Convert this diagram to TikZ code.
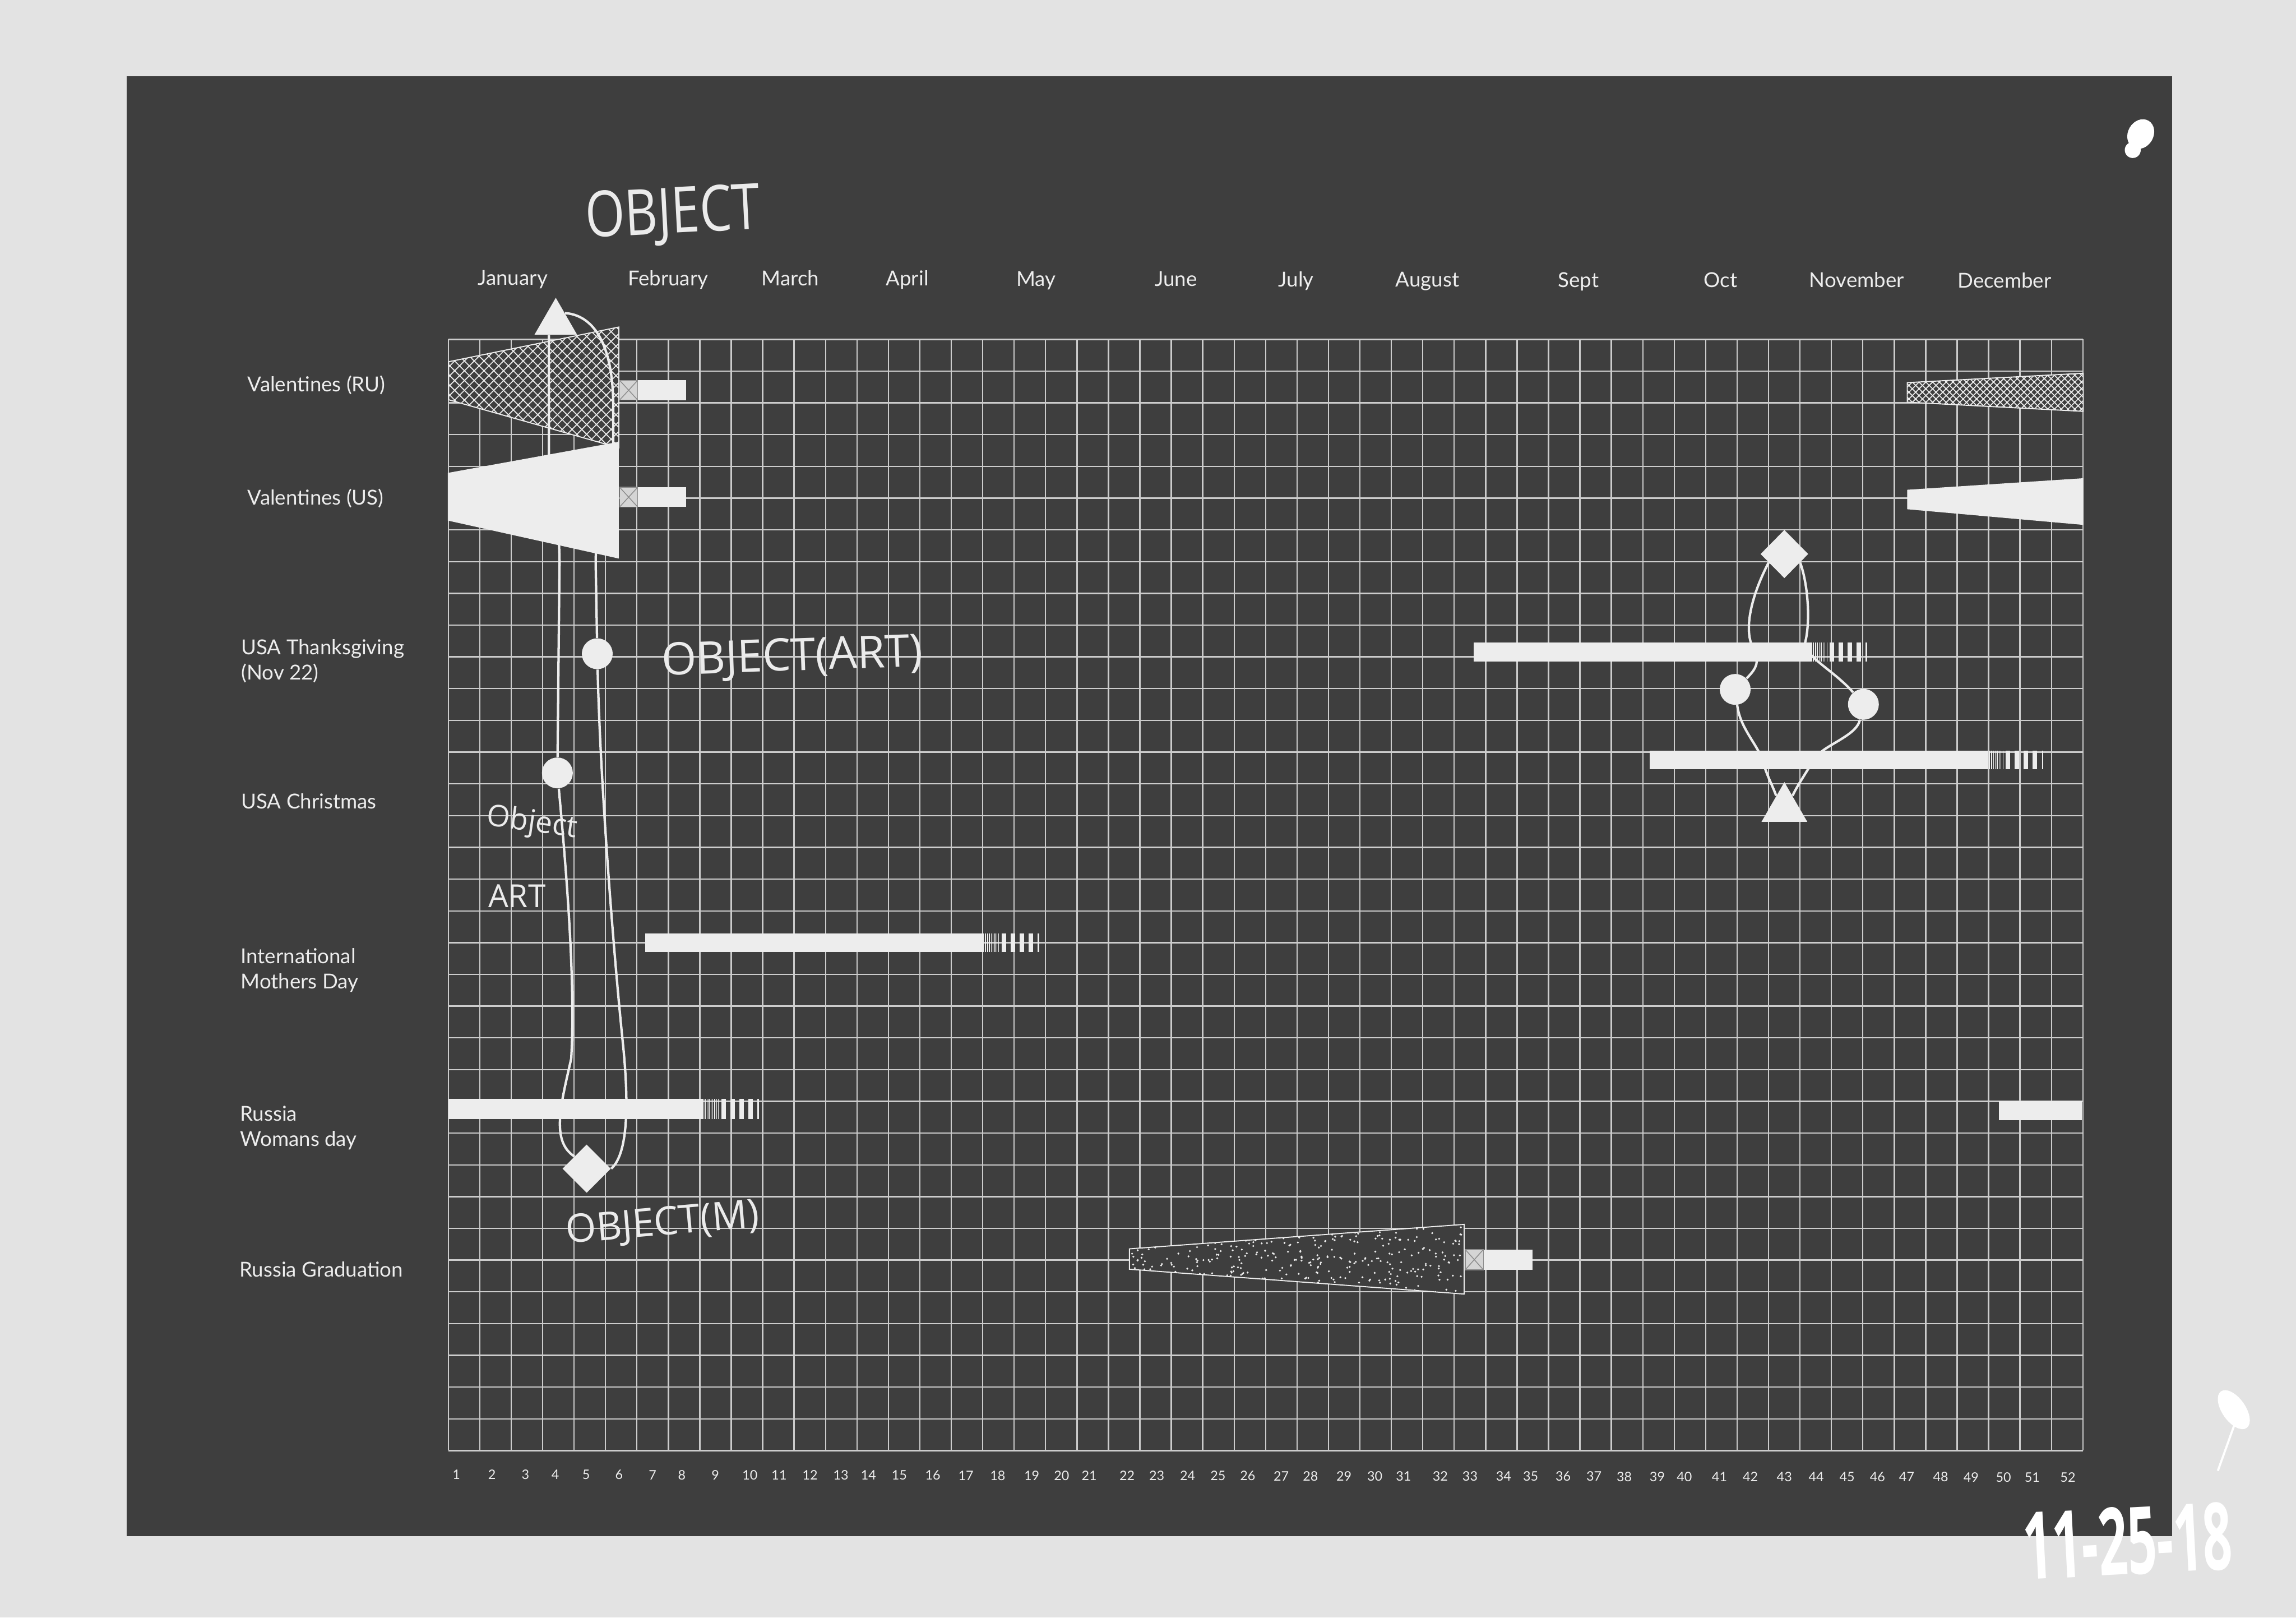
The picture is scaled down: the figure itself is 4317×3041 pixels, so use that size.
\documentclass[tikz,border=0pt]{standalone}
\usepackage{fontspec}
\setmainfont{Lato}
\newfontfamily\handfont{Open Sans}
\usepackage{graphicx}
\usetikzlibrary{positioning,shapes.geometric,patterns.meta,calc}

\definecolor{paper}{HTML}{E3E3E3}
\definecolor{board}{HTML}{3E3E3E}
\definecolor{rule}{HTML}{CCCCCC}
\definecolor{chalk}{HTML}{EDEDED}
\definecolor{xline}{HTML}{8C8C8C}

% striped fade at the end of a bar: start x, top y, bottom y
\newcommand{\fadeend}[3]{%
  \foreach \off/\wid in {0/3,4.6/2.4,8.6/2,12.3/1.8,15.9/1.6,19.5/1.5,23.1/1.4,26.7/1.3,30.3/1.2,36/8.5,53/8.5,70/8.5,87/8.5,104/3}
    \fill[chalk] ({#1+\off},#2) rectangle ({#1+\off+\wid},#3);%
}
% crossed box at the start of a bar
\newcommand{\crossbox}[4]{%
  \filldraw[fill=chalk!90!black, draw=xline, line width=0.15mm] (#1,#2) rectangle (#3,#4);
  \draw[xline, line width=0.15mm] (#1,#2) -- (#3,#4) (#1,#4) -- (#3,#2);%
}

\begin{document}
\begin{tikzpicture}[x=0.1mm, y=-0.1mm,
    gridline/.style={rule, line width=0.25mm},
    link/.style={chalk, line width=0.45mm},
    rowname/.style={text=chalk, font=\fontsize{11pt}{13.5pt}\selectfont, anchor=west, align=left, inner sep=0pt},
    monthname/.style={text=chalk, font=\fontsize{11pt}{13pt}\selectfont, anchor=base, inner sep=0pt},
    weeknum/.style={text=chalk, font=\fontsize{7pt}{8pt}\selectfont, inner sep=0pt},
    scrawl/.style={text=white!92!black, inner sep=0pt},
    token/.style={circle, fill=chalk, minimum size=5.8mm, inner sep=0pt},
    gem/.style={diamond, fill=chalk, minimum width=9.1mm, minimum height=9.1mm, inner sep=0pt},
    peak/.style={regular polygon, regular polygon sides=3, fill=chalk, inner sep=0pt},
    meshfill/.style={fill=board, draw=chalk, line width=0.2mm,
      postaction={pattern={Hatch[angle=45, distance=#1, line width=0.18mm]}, pattern color=chalk}},
    stipple/.style={fill=board, draw=chalk, line width=0.2mm}
]

    \useasboundingbox (0,0) rectangle (4317,3041);
    \fill[paper] (0,0) rectangle (4317,3041);
    \fill[board] (238,143) rectangle (4084,2888);

    % Grid: 52 weeks by 35 rows
    \foreach \i in {0,...,52}
        \draw[gridline] ({843+59.1*\i},638) -- ({843+59.1*\i},2727);
    \foreach \j in {0,...,35}
        \draw[gridline] (843,{638+59.686*\j}) -- (3916,{638+59.686*\j});

    % Months and weeks
    \foreach \mx/\mname in {964/January,1256/February,1486/March,1706/April,1948/May,2211/June,2437/July,2684/August,2968/Sept,3235/Oct,3491/November,3769/December}
        \node[monthname] (m\mname) at (\mx,{536+0.0018*(\mx-964)}) {\mname};
    \foreach \wx [count=\w] in {858,925,988,1044,1102,1164,1227,1282,1345,1410,1465,1523,1581,1633,1691,1754,1816,1876,1940,1996,2048,2119,2175,2233,2290,2346,2409,2464,2527,2585,2639,2708,2764,2827,2878,2939,2997,3054,3116,3167,3233,3291,3355,3415,3473,3530,3585,3649,3706,3767,3821,3888}
        \node[weeknum] (w\w) at (\wx,{2772+0.0017*(\wx-858)}) {\w};

    % Holidays
    \node[rowname] (valRU) at (465,724) {Valentines (RU)};
    \node[rowname] (valUS) at (465,937) {Valentines (US)};
    \node[rowname] (thanks) at (453,1243) {USA Thanksgiving\\(Nov 22)};
    \node[rowname] (xmas) at (453,1506) {USA Christmas};
    \node[rowname] (mothers) at (452,1824) {International\\Mothers Day};
    \node[rowname] (womens) at (451,2120) {Russia\\Womans day};
    \node[rowname] (grad) at (450,2386) {Russia Graduation};

    % Wedges
    \path[meshfill=1.3mm] (843.6,680) -- (1163.5,614.8) -- (1163.5,841.8) -- (843.6,751.5) -- cycle;
    \path[meshfill=0.9mm] (3586,719.3) -- (3917,701.7) -- (3917,773.3) -- (3586,756) -- cycle;
    \path[stipple] (2123.5,2347.7) -- (2753,2301.7) -- (2753,2432.7) -- (2123.5,2386) -- cycle;
    \begin{scope}
        \clip (2123.5,2347.7) -- (2753,2301.7) -- (2753,2432.7) -- (2123.5,2386) -- cycle;
        \pgfmathsetseed{11}
        \foreach \k in {1,...,420} {
            \pgfmathsetmacro{\dx}{2124+629*rnd}
            \pgfmathsetmacro{\dy}{2301+132*rnd}
            \fill[chalk] (\dx,\dy) circle (0.2mm);
        }
    \end{scope}
    \fill[chalk] (842,889) -- (1163.5,830.6) -- (1163.5,1050) -- (842,978.6) -- cycle;
    \fill[chalk] (3586,920.7) -- (3917,899) -- (3917,986.7) -- (3586,957.3) -- cycle;

    % Bars
    \fill[chalk] (1199,715) rectangle (1290,752); \crossbox{1165}{715}{1199}{752}
    \fill[chalk] (1199,916) rectangle (1290,953); \crossbox{1165}{916}{1199}{953}
    \fill[chalk] (2771,1208) rectangle (3404,1244); \fadeend{3404}{1208}{1244}
    \fill[chalk] (3102,1411) rectangle (3735,1446); \fadeend{3735}{1411}{1446}
    \fill[chalk] (1213,1755) rectangle (1847,1790); \fadeend{1847}{1755}{1790}
    \fill[chalk] (843,2066) rectangle (1320,2104); \fadeend{1320}{2066}{2104}
    \fill[chalk] (3758,2070) rectangle (3914,2106);
    \fill[chalk] (2789,2349) rectangle (2882,2387); \crossbox{2755}{2349}{2789}{2387}

    % Markers
    \node[peak, minimum size=9.24mm] (triJan) at (1045,606) {};
    \node[token] (dotJanA) at (1123,1229) {};
    \node[token] (dotJanB) at (1048,1453) {};
    \node[gem] (diaJan) at (1103,2197) {};
    \node[gem, minimum width=9mm] (diaNov) at (3355,1041.5) {};
    \node[token] (dotNovA) at (3262.5,1296) {};
    \node[token] (dotNovB) at (3503.6,1324) {};
    \node[peak, minimum size=9.93mm] (triNov) at (3355,1520) {};

    % Threads between markers
    \draw[link] ([xshift=-1.3mm]triJan.south) -- ++(0,210) .. controls +(0,100) and (1052,960) .. (1052,1060) -- (dotJanB);
    \draw[link] (dotJanB) .. controls (1066,1650) and (1082,1850) .. (1074,1990) .. controls (1055,2075) and (1035,2145) .. (diaJan.north west);
    \draw[link] (triJan.north east) .. controls (1112,592) and (1152,640) .. (1153,760) -- (1153,840) .. controls (1153,950) and (1120,950) .. (1120,1060) -- (dotJanA);
    \draw[link] (dotJanA) .. controls (1128,1450) and (1150,1750) .. (1170,1950) .. controls (1184,2080) and (1180,2170) .. (diaJan.east);
    \draw[link] ($(diaNov.west)!0.35!(diaNov.south)$) .. controls (3298,1110) and (3280,1170) .. (3292,1208) .. controls (3302,1236) and (3314,1246) .. (dotNovA);
    \draw[link] (dotNovA) .. controls (3272,1370) and (3305,1400) .. (3314,1430) .. controls (3322,1458) and (3332,1475) .. ($(triNov.corner 1)!0.35!(triNov.corner 2)$);
    \draw[link] ($(diaNov.east)!0.35!(diaNov.south)$) .. controls (3400,1100) and (3404,1170) .. (3394,1208) .. controls (3390,1232) and (3450,1262) .. (dotNovB);
    \draw[link] (dotNovB) .. controls (3490,1385) and (3428,1400) .. (3410,1428) .. controls (3395,1455) and (3380,1475) .. ($(triNov.corner 1)!0.35!(triNov.corner 3)$);

    % Handwritten notes
    \node[scrawl, font={\handfont\fontsize{34pt}{34pt}\selectfont}, rotate=3] (noteTop) at (1265,406) {\scalebox{0.8}[1]{OBJECT}};
    \node[scrawl, font={\handfont\fontsize{24pt}{24pt}\selectfont}, rotate=2] (noteArt) at (1490,1238) {OBJECT(ART)};
    \node[scrawl, font={\handfont\fontsize{16pt}{16pt}\selectfont}, rotate=-8] (noteObj) at (1000,1548) {Object};
    \node[scrawl, font={\handfont\fontsize{17pt}{17pt}\selectfont}] (noteArt2) at (972,1684) {ART};
    \node[scrawl, font={\handfont\fontsize{21pt}{21pt}\selectfont}, rotate=5] (noteM) at (1246,2302) {OBJECT(M)};
    \node[scrawl, text=white, font={\handfont\bfseries\fontsize{50pt}{50pt}\selectfont}, rotate=3] (date) at (4000,2897) {\scalebox{0.55}[1]{11-25-18}};

    % Blots
    \fill[white, rotate around={-30:(4025,252)}] (4025,252) ellipse (2.4mm and 2.9mm);
    \fill[white] (4010,282) circle (1.5mm);
    \fill[white, rotate around={35:(4200,2650)}] (4200,2650) ellipse (2.2mm and 4.2mm);
    \draw[white, line width=0.4mm] (4215,2640) -- (4170,2765);

\end{tikzpicture}
\end{document}
